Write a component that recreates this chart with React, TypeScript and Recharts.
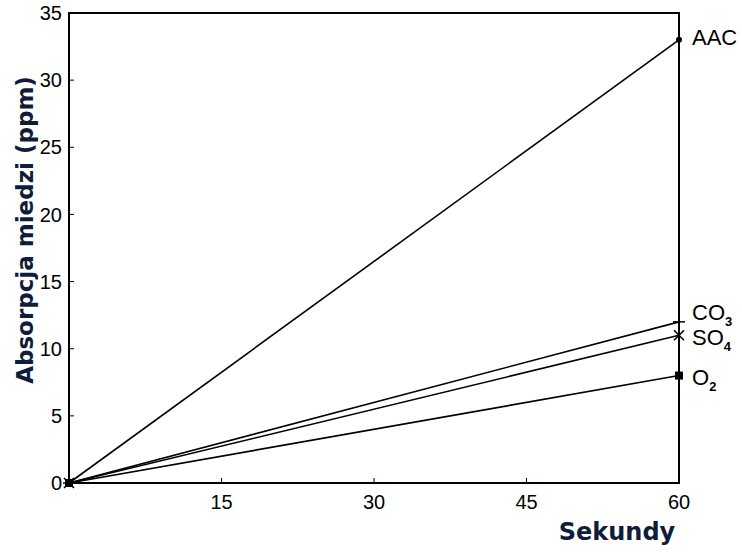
import React from 'react'
import { LineChart, Line, XAxis, YAxis, ReferenceArea } from 'recharts'

// czas (s) i absorpcja miedzi (ppm)
const seconds = [0, 60]
const aac = [0, 33]
const co3 = [0, 12]
const so4 = [0, 11]
const o2 = [0, 8]

const xTicks = [15, 30, 45, 60]
const yTicks = [0, 5, 10, 15, 20, 25, 30, 35]

const data = seconds.map((s, i) => ({ s, aac: aac[i], co3: co3[i], so4: so4[i], o2: o2[i] }))

type Marker = 'dot' | 'dash' | 'cross' | 'square'

const series: { key: string; main: string; sub: string; marker: Marker; dy: number }[] = [
  { key: 'aac', main: 'AAC', sub: '', marker: 'dot', dy: 5 },
  { key: 'co3', main: 'CO', sub: '3', marker: 'dash', dy: -2 },
  { key: 'so4', main: 'SO', sub: '4', marker: 'cross', dy: 10 },
  { key: 'o2', main: 'O', sub: '2', marker: 'square', dy: 9 },
]

const titleColor = '#0f1d3a'

function markerShape(m: Marker, cx: number, cy: number) {
  if (m === 'dot') return <circle cx={cx} cy={cy} r={3} fill="#000" />
  if (m === 'dash') return <line x1={cx - 6} x2={cx + 6} y1={cy} y2={cy} stroke="#000" strokeWidth={1.5} />
  if (m === 'cross')
    return (
      <g stroke="#000" strokeWidth={1.6}>
        <line x1={cx - 5} y1={cy - 5} x2={cx + 5} y2={cy + 5} />
        <line x1={cx - 5} y1={cy + 5} x2={cx + 5} y2={cy - 5} />
      </g>
    )
  return <rect x={cx - 4} y={cy - 4} width={8} height={8} fill="#000" />
}

const makeDot = (s: (typeof series)[number]) => (props: any) => {
  const { cx, cy, index } = props
  const last = index === seconds.length - 1
  return (
    <g key={`${s.key}-${index}`}>
      {markerShape(s.marker, cx, cy)}
      {last && (
        <text x={cx + 13} y={cy + s.dy} fontSize={22} fontFamily="Liberation Sans, Arial, sans-serif" fill="#000">
          {s.main}
          {s.sub && (
            <tspan fontSize={13} fontWeight="bold" dy={6}>
              {s.sub}
            </tspan>
          )}
        </text>
      )}
    </g>
  )
}

export default function App() {
  return (
    <div style={{ position: 'absolute', left: 0, top: 0, background: '#fff' }}>
      <LineChart width={742} height={554} data={data} margin={{ top: 13, right: 63, bottom: 0, left: 0 }}>
        <XAxis
          dataKey="s"
          type="number"
          domain={[0, 60]}
          ticks={xTicks}
          height={71}
          axisLine={{ stroke: '#000', strokeWidth: 2 }}
          tickLine={{ stroke: '#000' }}
          tickSize={-5}
          tickMargin={17}
          tick={{ fontSize: 20, fill: '#000', fontFamily: 'Liberation Sans, Arial, sans-serif' }}
          label={{
            content: () => (
              <text x={617} y={540} textAnchor="middle" fontSize={24} fontWeight="bold" fontFamily="DejaVu Sans" fill={titleColor}>
                Sekundy
              </text>
            ),
          }}
        />
        <YAxis
          type="number"
          domain={[0, 35]}
          ticks={yTicks}
          width={69}
          axisLine={{ stroke: '#000', strokeWidth: 2 }}
          tickLine={{ stroke: '#000' }}
          tickSize={-5}
          tickMargin={12}
          tick={{ fontSize: 20, fill: '#000', fontFamily: 'Liberation Sans, Arial, sans-serif' }}
          label={{
            content: () => (
              <text
                x={33}
                y={230}
                transform="rotate(-90, 33, 230)"
                textAnchor="middle"
                fontSize={23}
                fontWeight="bold"
                fontFamily="DejaVu Sans"
                fill={titleColor}
              >
                Absorpcja miedzi (ppm)
              </text>
            ),
          }}
        />
        <ReferenceArea x1={0} x2={60} y1={0} y2={35} fill="none" stroke="#000" strokeWidth={2} />
        {series.map((s) => (
          <Line
            key={s.key}
            dataKey={s.key}
            type="linear"
            stroke="#000"
            strokeWidth={1.6}
            dot={makeDot(s)}
            activeDot={false}
            isAnimationActive={false}
          />
        ))}
      </LineChart>
    </div>
  )
}
